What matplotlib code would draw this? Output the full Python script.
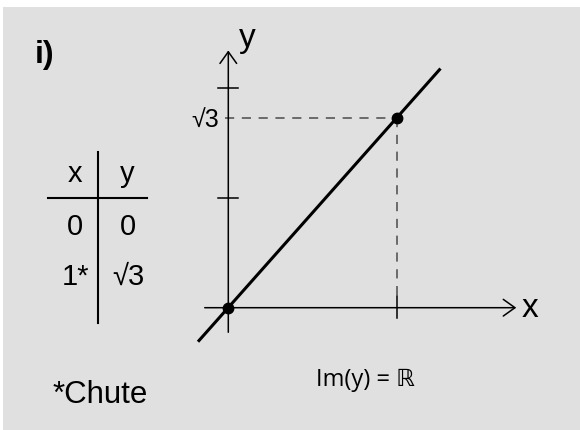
import matplotlib
matplotlib.use("Agg")
import matplotlib.pyplot as plt
from matplotlib.lines import Line2D
from matplotlib.patches import Rectangle

# ---- data ----
SQRT3 = 1.732
points_x = [0, 1]
points_y = [0, SQRT3]
line_x = [-0.18, 1.26]
line_y = [-0.31, 2.18]
ytick_values = [1, 2]
ytick_label = "√3"
table_header = ["x", "y"]
table_x = ["0", "1*"]
table_y = ["0", "√3"]
title_label = "i)"
footnote = "*Chute"
image_label = "Im(y) = ℝ"

W, H = 580, 430
fig = plt.figure(figsize=(W / 100, H / 100), dpi=100)
fig.patch.set_facecolor("white")
BG = "#e0e0e0"
fig.patches.append(Rectangle((3 / W, 0), 1, (H - 7) / H, transform=fig.transFigure,
                             facecolor=BG, edgecolor="none", zorder=-10))

def fx(px):
    return px / W

def fy(py):
    return 1 - py / H

FONT = ["Liberation Sans", "DejaVu Sans"]

# ---- main axes (whole figure, data scale) ----
ax = fig.add_axes([0, 0, 1, 1], zorder=5)
ax.patch.set_visible(False)
ox, oy = 228.3, 307.7          # origin in pixels
ux, uy = 168.4, 109.7          # pixels per unit
ax.set_xlim(-ox / ux, (W - ox) / ux)
ax.set_ylim(-(H - oy) / uy, oy / uy)
ax.axis("off")

axis_kw = dict(color="black", lw=1.1)
arrow = dict(arrowstyle="->,head_length=0.42,head_width=0.3",
             mutation_scale=20, lw=1.1, color="black", shrinkA=0, shrinkB=0)
# x axis
ax.annotate("", xy=(1.71, 0), xytext=(-0.14, 0), arrowprops=arrow)
# y axis
ax.annotate("", xy=(0, 2.345), xytext=(0, -0.224), arrowprops=arrow)
# y ticks
for v in ytick_values:
    ax.plot([-0.059, 0.059], [v, v], **axis_kw)
# x tick at x=1
ax.plot([points_x[1], points_x[1]], [-0.094, 0.11], **axis_kw)

# dashed guides
dash = dict(color="#4a4a4a", lw=1.1, linestyle=(0, (6, 5)))
ax.plot([-0.02, points_x[1]], [points_y[1], points_y[1]], **dash)
ax.plot([points_x[1], points_x[1]], [points_y[1], 0.11], **dash)

# main line and points
ax.plot(line_x, line_y, color="black", lw=2.2, solid_capstyle="butt", zorder=3)
ax.plot(points_x, points_y, "o", color="black", ms=7.5, zorder=4)

# tick label √3
ax.text(-0.053, points_y[1] - 0.02, ytick_label, ha="right", va="center",
        fontsize=18, family=FONT)
# axis labels
fig.text(fx(239), fy(47), "y", ha="left", va="baseline", fontsize=24, family=FONT)
fig.text(fx(522), fy(317), "x", ha="left", va="baseline", fontsize=24, family=FONT)

# title
fig.text(fx(35), fy(63), title_label, ha="left", va="baseline", fontsize=23,
         fontweight="bold", family=FONT)

# ---- table ----
fig.add_artist(Line2D([fx(98.3), fx(98.3)], [fy(151.7), fy(323)], color="black", lw=1.5))
fig.add_artist(Line2D([fx(48), fx(146.7)], [fy(198.3), fy(198.3)], color="black", lw=1.5))
col_x = [75, 127]
fig.text(fx(col_x[0]), fy(181.5), table_header[0], ha="center", va="baseline", fontsize=21, family=FONT)
fig.text(fx(col_x[1]), fy(181.5), table_header[1], ha="center", va="baseline", fontsize=21, family=FONT)
row_y = [235, 285]
for i in range(len(table_x)):
    fig.text(fx(col_x[0]), fy(row_y[i]), table_x[i], ha="center", va="baseline", fontsize=21, family=FONT)
    fig.text(fx(col_x[1] + 1), fy(row_y[i]), table_y[i], ha="center", va="baseline", fontsize=21, family=FONT)

# footnote
fig.text(fx(53), fy(403), footnote, ha="left", va="baseline", fontsize=22.5, family=FONT)
# image label
fig.text(fx(365), fy(386), image_label, ha="center", va="baseline", fontsize=17,
         family=["Open Sans", "DejaVu Sans"])

fig.savefig("out.png", dpi=100, facecolor=fig.get_facecolor())
